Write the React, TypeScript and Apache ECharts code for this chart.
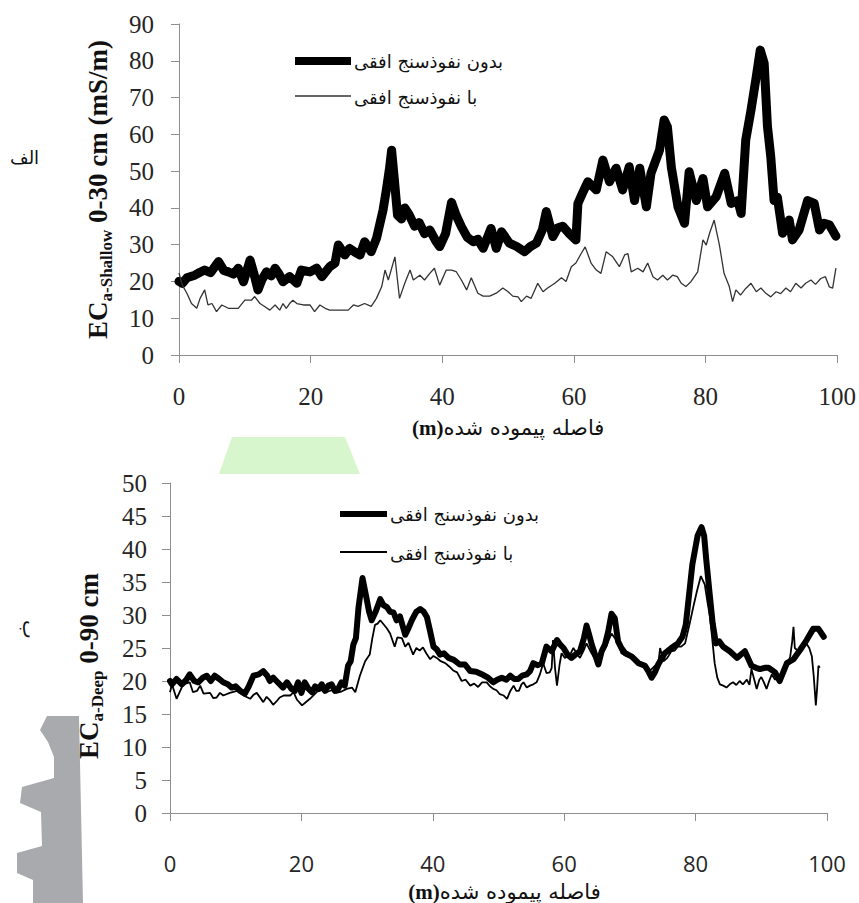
import React, { useEffect, useRef } from "react";
import * as echarts from "echarts";

// ---- Top panel (0-30 cm) ----
const TOP_NOPEN_X = [0, 0.5, 1.2, 2.4, 3.2, 3.9, 4.8, 6, 6.8, 7.5, 8.3, 9, 9.8, 10.8, 11.4, 12, 12.6, 13.3, 14, 14.6, 15.2, 15.8, 16.8, 17.9, 18.6, 19.9, 20.9, 21.7, 22.9, 23.7, 24.2, 25.2, 25.9, 26.7, 27.5, 28.2, 29.2, 30, 31, 31.5, 32, 32.3, 32.7, 33.2, 33.8, 34.3, 35, 35.8, 36.5, 37.3, 38.1, 39, 39.6, 40.5, 41.4, 42.1, 42.9, 43.8, 44.7, 45.4, 46.2, 47.4, 48.2, 49, 50.2, 51.3, 52.5, 53.4, 54.3, 55.2, 55.8, 56.8, 57.5, 58.3, 59.3, 60.3, 60.6, 61.3, 62.1, 63.4, 64.4, 65.4, 66.4, 67.4, 68.4, 69.2, 70, 71, 71.7, 73, 73.7, 74.2, 74.8, 75.8, 76.8, 77.5, 78.6, 79.6, 80.3, 81.6, 82.9, 83.9, 84.9, 85.4, 86.1, 86.9, 87.7, 88.3, 88.9, 89.4, 89.9, 90.4, 90.9, 91.7, 92.7, 93.2, 94.2, 95.5, 96.5, 97.3, 98, 98.8, 99.8];
const TOP_NOPEN_Y = [20, 19.5, 21, 21.7, 22.5, 23.1, 22.4, 25.4, 23, 22.6, 22, 23.6, 19.9, 25.8, 22, 17.7, 20.5, 22.6, 21.5, 23.6, 22, 19.9, 21.3, 19.5, 23.1, 22.6, 23.6, 21.3, 24, 25, 29.9, 27.2, 29, 28, 27.2, 30.8, 28.1, 31.7, 39.4, 44.9, 51, 55.7, 48, 38, 37, 40, 38, 35, 36, 33, 34, 31, 29.5, 33, 41.5, 38, 34.9, 32, 30.8, 31.5, 29, 34.4, 29, 33.5, 30.4, 29.5, 28.1, 29.5, 30.4, 34, 39, 32.2, 34.5, 35, 33, 31.3, 41.2, 44, 47.1, 44.9, 53, 47.1, 50.8, 44.9, 51.2, 42, 50.8, 40.3, 49.4, 55.7, 63.9, 62, 51, 40.3, 35.8, 49.8, 42, 48, 40.3, 43, 49.4, 41.2, 42, 38.5, 58.5, 66.6, 75.7, 82.9, 79.3, 62.1, 53.9, 42, 42.9, 33.1, 36.7, 31.3, 34, 42, 41.2, 34, 35.8, 35.4, 32.3];

const TOP_PEN_X = [0, 0.5, 1.2, 1.9, 2.7, 3.2, 3.9, 4.4, 5, 5.7, 6.5, 7.5, 9, 10, 11, 11.5, 12.3, 13, 13.8, 14.6, 15.3, 15.8, 16.3, 16.8, 17.3, 17.9, 18.9, 19.9, 20.6, 21.4, 22.2, 22.9, 23.7, 25.7, 26.5, 27.2, 28.2, 29.2, 30, 30.8, 31.3, 31.8, 32.8, 33.5, 34.3, 35.1, 35.6, 36.6, 37.3, 38.1, 38.8, 39.6, 40.6, 41.4, 42.1, 42.9, 43.7, 44.4, 45.4, 46.2, 47.2, 48.2, 49.2, 50, 50.7, 51.5, 52, 52.8, 53.5, 54.5, 55.3, 56, 57.1, 58.1, 58.8, 59.6, 60.3, 61.1, 61.7, 62.6, 63.4, 64.1, 64.9, 65.9, 66.9, 67.7, 68.2, 68.7, 69.7, 70.5, 71.2, 72, 72.7, 73.5, 74.2, 75, 75.7, 76.3, 77, 77.8, 78.8, 79.6, 80.1, 80.6, 81.3, 82.1, 82.8, 83.6, 84.1, 84.6, 85.3, 86.1, 86.9, 87.7, 88.4, 89.2, 89.9, 90.7, 91.4, 92.2, 92.9, 93.7, 94.5, 95.2, 96, 96.7, 97.5, 98.2, 98.8, 99.3, 99.8];
const TOP_PEN_Y = [22.3, 19, 16.8, 14, 12.7, 15.4, 17.7, 13.6, 14, 11.8, 13.6, 12.7, 12.7, 14.9, 14.9, 15.9, 14, 13.2, 12.2, 13.6, 12.2, 14, 12.7, 14, 14.9, 14, 13.6, 13.6, 11.8, 13.6, 12.7, 12.2, 12.2, 12.2, 13.6, 13.2, 14, 13.2, 15.4, 18.6, 23.1, 20.4, 26.7, 15.4, 19.5, 23.1, 20.4, 21.7, 20.4, 22.2, 23.6, 19, 23.1, 23.1, 22.7, 20.4, 17.7, 21, 16.8, 16, 16, 16.8, 18.2, 17.2, 16, 15.8, 14.5, 16, 15.4, 19.5, 17.2, 18.2, 19.5, 21, 20, 24, 25, 27.6, 29.4, 25, 23.1, 22.2, 28.1, 26.7, 24, 27.2, 27.6, 22.6, 23.6, 22.6, 25, 21.3, 20.4, 21.7, 20.4, 21.7, 21.3, 19.5, 18.6, 20, 22.6, 31.3, 29.9, 33.1, 36.7, 29.9, 22.2, 18.6, 14.5, 17.7, 16.3, 18.1, 19.5, 17.2, 18.2, 16.7, 15.8, 17.2, 16.7, 18.2, 17.2, 19.5, 18.2, 19.5, 20.4, 19.2, 20.8, 21.3, 18.5, 18.2, 23.6];

// ---- Bottom panel (0-90 cm) ----
const BOT_NOPEN_X = [0, 0.3, 1, 1.8, 2.5, 3, 3.7, 4.3, 5, 5.6, 6.2, 6.8, 7.5, 8.1, 8.8, 9.4, 10, 10.7, 11.4, 12, 12.7, 13.5, 14.2, 14.8, 15.2, 15.7, 16.2, 17.2, 17.8, 18.5, 19, 19.5, 20, 20.5, 21.1, 21.6, 22.1, 22.6, 23.1, 23.6, 24.1, 24.6, 25.1, 25.6, 26.1, 26.6, 27.1, 27.5, 27.9, 28.3, 28.7, 29.3, 29.9, 30.3, 30.7, 31.3, 32, 32.5, 33, 33.5, 34, 34.5, 35, 35.8, 36.3, 36.8, 37.5, 38.1, 38.6, 39.1, 39.6, 40.1, 40.6, 41.1, 41.7, 42.4, 43.2, 44.1, 44.9, 45.7, 46.6, 47.7, 48.4, 49.2, 49.8, 50.5, 51.2, 51.8, 52.4, 53, 53.6, 54.3, 54.8, 55.3, 56, 56.6, 57.3, 58.1, 58.9, 59.4, 59.9, 60.5, 61.1, 61.7, 62.4, 63, 63.4, 63.8, 64.2, 64.7, 65.2, 65.7, 66.2, 66.7, 67.2, 67.7, 68.2, 68.7, 69.3, 70.3, 71.3, 72.3, 72.8, 73.3, 73.8, 74.3, 75.3, 76.3, 77.3, 78, 78.5, 78.8, 79.5, 80.3, 80.9, 81.3, 81.6, 82.1, 82.6, 83.1, 83.6, 84.2, 85.2, 86.3, 87.5, 88.5, 89.2, 89.8, 90.5, 91.1, 92.1, 92.8, 93.4, 93.9, 94.9, 95.9, 96.9, 97.9, 98.7, 99.5];
const BOT_NOPEN_Y = [20, 19.5, 20.3, 19.5, 20.2, 21, 20, 19.8, 20.5, 20.8, 20, 20.8, 20.3, 19.8, 19.5, 19, 19.2, 18.5, 18.1, 19.2, 20.8, 21, 21.5, 20.8, 20, 20.5, 20, 19, 19.8, 18.8, 18.5, 19.8, 18.2, 19.8, 18.8, 18.3, 19.2, 18.8, 19.5, 18.5, 19.3, 19.5, 18.5, 18.8, 19.8, 19.3, 22.3, 23, 25.5, 26.5, 31.2, 35.6, 32.6, 30.5, 29.2, 30.5, 32.4, 31.5, 31.2, 30.5, 30.4, 29.2, 29.8, 27, 28, 29.2, 30.5, 30.9, 30.5, 29.7, 27.5, 25.2, 24.8, 24, 24.2, 23.5, 23.2, 22.5, 22.5, 21.5, 21.4, 20.9, 20.5, 19.8, 20.2, 20.5, 20.2, 20.8, 20.3, 20.3, 20.8, 21, 21.5, 22.7, 22.4, 22.7, 25.2, 24.5, 26.2, 25.5, 25, 24, 23.5, 24, 24.5, 26.5, 28.4, 27, 25.5, 24, 22.5, 24.5, 25.5, 27.5, 30.2, 29.5, 26, 25, 24.2, 23.7, 22.7, 22.3, 21.5, 20.5, 21.3, 22.5, 24.2, 25, 25.7, 26.7, 28.5, 31.2, 37.6, 42, 43.3, 42, 38.6, 33.6, 28.7, 25.7, 26, 25.2, 24.5, 23.5, 24.5, 22.3, 22, 21.8, 22, 22, 21.3, 20, 21.5, 22.7, 23.3, 24.7, 26.2, 27.9, 27.9, 26.7];

const BOT_PEN_X = [0, 0.3, 1, 2, 3, 3.5, 4.1, 4.6, 5.1, 6.1, 6.6, 7.1, 7.6, 8.1, 9.1, 10.2, 11.2, 12.2, 12.7, 13.2, 14.2, 14.7, 15.2, 15.7, 16.2, 16.7, 17.3, 18.3, 18.8, 19.3, 20.1, 20.8, 21.3, 21.8, 22.4, 23.1, 23.8, 24.6, 25.3, 26.1, 26.9, 27.7, 28.2, 28.9, 29.7, 30.4, 30.8, 31.2, 31.6, 32, 33, 33.5, 34.2, 34.6, 35.3, 35.8, 36.3, 37, 37.5, 38, 38.5, 39, 39.6, 40.1, 40.6, 41.2, 41.9, 42.5, 43.1, 43.7, 44.4, 45, 45.7, 46.3, 46.9, 47.5, 48.2, 48.7, 49.2, 49.7, 50.2, 50.8, 51.3, 51.8, 52.3, 52.7, 53.1, 53.5, 53.8, 54.3, 54.8, 55.3, 55.8, 56.3, 56.8, 57.3, 57.8, 58.1, 58.3, 58.6, 58.9, 59.3, 59.6, 60.1, 60.6, 61, 61.4, 61.9, 62.4, 62.9, 63.4, 64, 64.7, 65.3, 65.9, 66.5, 67.2, 67.7, 68.2, 68.7, 69.5, 70.3, 71, 71.8, 72.3, 72.8, 73.3, 73.8, 74.3, 74.6, 75.1, 75.7, 76.3, 76.8, 77.3, 77.8, 78.4, 79.1, 79.6, 80.2, 80.8, 81.4, 81.8, 82.2, 82.6, 82.9, 83.3, 83.7, 84.2, 84.7, 85.2, 85.7, 86.2, 86.7, 87.2, 87.8, 88.2, 88.5, 88.9, 89.3, 89.7, 90, 90.4, 90.8, 91.2, 91.6, 92.1, 92.6, 93.1, 93.6, 94, 94.4, 94.7, 94.9, 95.1, 95.4, 95.8, 96.2, 96.6, 96.9, 97.3, 97.7, 98, 98.3, 98.5, 98.7, 98.9];
const BOT_PEN_Y = [18.3, 19.5, 17.3, 19.5, 19.8, 18.3, 18.5, 19.3, 18.1, 18.2, 17.4, 17.5, 18.2, 17.8, 18.2, 18.5, 17.8, 17.3, 17.9, 18.2, 16.8, 17.6, 17.1, 16.4, 16.9, 17.5, 17.8, 17.8, 18.3, 17.2, 16.3, 16.9, 17.3, 17.8, 18.4, 18.6, 18.3, 18.6, 18.2, 18.4, 18.8, 19, 18.3, 20.8, 23, 24, 26.5, 28.5, 28.7, 29.2, 28, 27.2, 25.2, 26.6, 26.5, 25.2, 25.8, 24, 25, 24.6, 25.1, 24.2, 23.3, 23.8, 23.5, 23, 22.7, 22.2, 21.6, 21.3, 20, 20.2, 19.3, 19.6, 19.1, 19.8, 19.8, 19.2, 18.8, 18.6, 18, 17.8, 17.3, 18.5, 19.3, 18.5, 18.5, 19.5, 19.8, 19, 19.3, 19.5, 19.8, 21, 22.7, 21.2, 21.3, 22, 26.2, 22, 19.3, 22.5, 24.2, 23.5, 23.8, 24.2, 25, 24.2, 23.5, 24.5, 25.7, 24.5, 23.3, 24, 24.4, 25.5, 27.2, 26.5, 25.8, 24.2, 23.8, 23.7, 23, 22.3, 22, 21.3, 21.8, 22.3, 22.5, 25, 23, 23.5, 24.5, 24.6, 25.2, 25.2, 25.7, 28.7, 31, 33.6, 35.9, 34.6, 32, 29.7, 25.7, 22.7, 20.5, 19.5, 19.3, 19, 19.5, 19.8, 19.4, 20, 19.5, 20.2, 19.4, 21.8, 20.3, 18.8, 20.2, 20.6, 19.8, 18.8, 20, 21, 20.2, 20.8, 20.8, 21.3, 22.5, 23.7, 26, 28.2, 25, 24.7, 24.5, 24.9, 25.3, 25.6, 25, 23.7, 20.5, 16.3, 19, 22.3, 22];

const NAME_NOPEN = "بدون نفوذسنج افقی";
const NAME_PEN = "با نفوذسنج افقی";
const X_TITLE_UNIT = "(m)";
const X_TITLE_TEXT = "فاصله پیموده شده";

const zip = (xs: number[], ys: number[]) => xs.map((x, i) => [x, ys[i]]);

const SERIF = "Liberation Serif";
const PERSIAN = "DejaVu Sans";
const SANS_TICK = "Open Sans";
const AXIS_GREY = "#8e8e8e";

function yAxisCfg(grid: number, max: number, interval: number, sub: string, rest: string, pad: number, margin: number) {
  return {
    type: "value",
    gridIndex: grid,
    min: 0,
    max,
    interval,
    axisLine: { show: true, lineStyle: { color: AXIS_GREY, width: 1 } },
    axisTick: { show: true, length: 8, lineStyle: { color: AXIS_GREY } },
    splitLine: { show: false },
    axisLabel: { margin, fontFamily: SERIF, fontSize: 25, color: "#262626" },
    name: `{b|EC}{s|${sub}}{b|${rest}}`,
    nameLocation: "middle",
    nameRotate: 90,
    nameGap: 64,
    nameTextStyle: {
      padding: [0, pad, 0, 0],
      rich: {
        b: { fontFamily: SERIF, fontSize: 27, fontWeight: "bold", color: "#111", lineHeight: 34, verticalAlign: "middle" },
        s: { fontFamily: SERIF, fontSize: 17, fontWeight: "bold", color: "#111", lineHeight: 34, verticalAlign: "bottom" },
      },
    },
  };
}

function xAxisCfg(grid: number, labelFont: string, labelSize: number, margin: number, gap: number, padLeft: number) {
  return {
    type: "value",
    gridIndex: grid,
    min: 0,
    max: 100,
    interval: 20,
    axisLine: { show: true, onZero: false, lineStyle: { color: AXIS_GREY, width: 1 } },
    axisTick: { show: true, length: 8, inside: false, lineStyle: { color: AXIS_GREY } },
    splitLine: { show: false },
    axisLabel: { margin, fontFamily: labelFont, fontSize: labelSize, color: "#262626" },
    name: `{u|${X_TITLE_UNIT}}{t|${X_TITLE_TEXT}}`,
    nameLocation: "middle",
    nameGap: gap,
    nameTextStyle: {
      padding: [0, 0, 0, padLeft],
      rich: {
        u: { fontFamily: SERIF, fontSize: 21, fontWeight: "bold", color: "#111" },
        t: { fontFamily: PERSIAN, fontSize: 21, color: "#111" },
      },
    },
  };
}

function legendGraphics(x: number, y1: number, y2: number, len: number, thick: number, thin: number, thinColor: string, fs: number) {
  return [
    { type: "line", shape: { x1: x, y1, x2: x + len, y2: y1 }, style: { stroke: "#000", lineWidth: thick } },
    { type: "text", x: x + len + 3, y: y1, style: { text: NAME_NOPEN, fontFamily: PERSIAN, fontSize: fs, fill: "#111", verticalAlign: "middle", align: "left" } },
    { type: "line", shape: { x1: x, y1: y2, x2: x + len, y2 }, style: { stroke: thinColor, lineWidth: thin } },
    { type: "text", x: x + len + 3, y: y2 + 1, style: { text: NAME_PEN, fontFamily: PERSIAN, fontSize: fs, fill: "#111", verticalAlign: "middle", align: "left" } },
  ];
}

export default function App() {
  const ref = useRef<HTMLDivElement>(null);
  useEffect(() => {
    if (!ref.current) return;
    const chart = echarts.init(ref.current, undefined, { renderer: "svg" });
    chart.setOption({
      animation: false,
      backgroundColor: "#fff",
      textStyle: { fontFamily: SERIF },
      grid: [
        { left: 179, top: 24, width: 659, height: 331 },
        { left: 170, top: 483, width: 657, height: 337 },
      ],
      xAxis: [xAxisCfg(0, SERIF, 25, 29, 62, 0), xAxisCfg(1, SANS_TICK, 22, 39, 68, 12)],
      yAxis: [
        yAxisCfg(0, 90, 10, "a-Shallow", " 0-30 cm (mS/m)", 0, 25),
        yAxisCfg(1, 50, 5, "a-Deep", " 0-90 cm", 36, 23),
      ],
      series: [
        {
          name: NAME_NOPEN, type: "line", xAxisIndex: 0, yAxisIndex: 0, showSymbol: false, symbol: "none",
          data: zip(TOP_NOPEN_X, TOP_NOPEN_Y),
          lineStyle: { color: "#000", width: 9, join: "round", cap: "round" },
          itemStyle: { color: "#000" },
        },
        {
          name: NAME_PEN, type: "line", xAxisIndex: 0, yAxisIndex: 0, showSymbol: false, symbol: "none",
          data: zip(TOP_PEN_X, TOP_PEN_Y),
          lineStyle: { color: "#333", width: 1.3 },
          itemStyle: { color: "#333" },
        },
        {
          name: NAME_NOPEN, type: "line", xAxisIndex: 1, yAxisIndex: 1, showSymbol: false, symbol: "none",
          data: zip(BOT_NOPEN_X, BOT_NOPEN_Y),
          lineStyle: { color: "#000", width: 6, join: "round", cap: "round" },
          itemStyle: { color: "#000" },
        },
        {
          name: NAME_PEN, type: "line", xAxisIndex: 1, yAxisIndex: 1, showSymbol: false, symbol: "none",
          data: zip(BOT_PEN_X, BOT_PEN_Y),
          lineStyle: { color: "#000", width: 1.8 },
          itemStyle: { color: "#000" },
        },
      ],
      graphic: [
        ...legendGraphics(295, 61, 96, 56, 8, 1.3, "#333", 18),
        ...legendGraphics(340, 514, 552, 47, 6, 1.8, "#000", 18),
        { type: "text", left: 10, top: 148, style: { text: "الف", fontFamily: PERSIAN, fontSize: 18, fill: "#111" } },
        { type: "text", x: 40, y: 620, rotation: -Math.PI / 2, style: { text: "ب", fontFamily: PERSIAN, fontSize: 20, fill: "#111" } },
        {
          type: "polygon",
          shape: { points: [[232, 437], [345, 437], [360, 474], [219, 474]] },
          style: { fill: "#d8f6cd" },
          z: -1,
        },
        {
          type: "polygon",
          shape: {
            points: [[47, 716], [79, 716], [83, 903], [33, 903], [33, 880], [17, 873], [17, 853], [42, 846], [41, 812], [20, 803], [22, 787], [54, 778], [54, 757], [48, 742], [40, 730]],
          },
          style: { fill: "#a8aaad" },
        },
      ],
    });
    return () => chart.dispose();
  }, []);
  return <div ref={ref} style={{ position: "absolute", left: 0, top: 0, width: 859, height: 903 }} />;
}
